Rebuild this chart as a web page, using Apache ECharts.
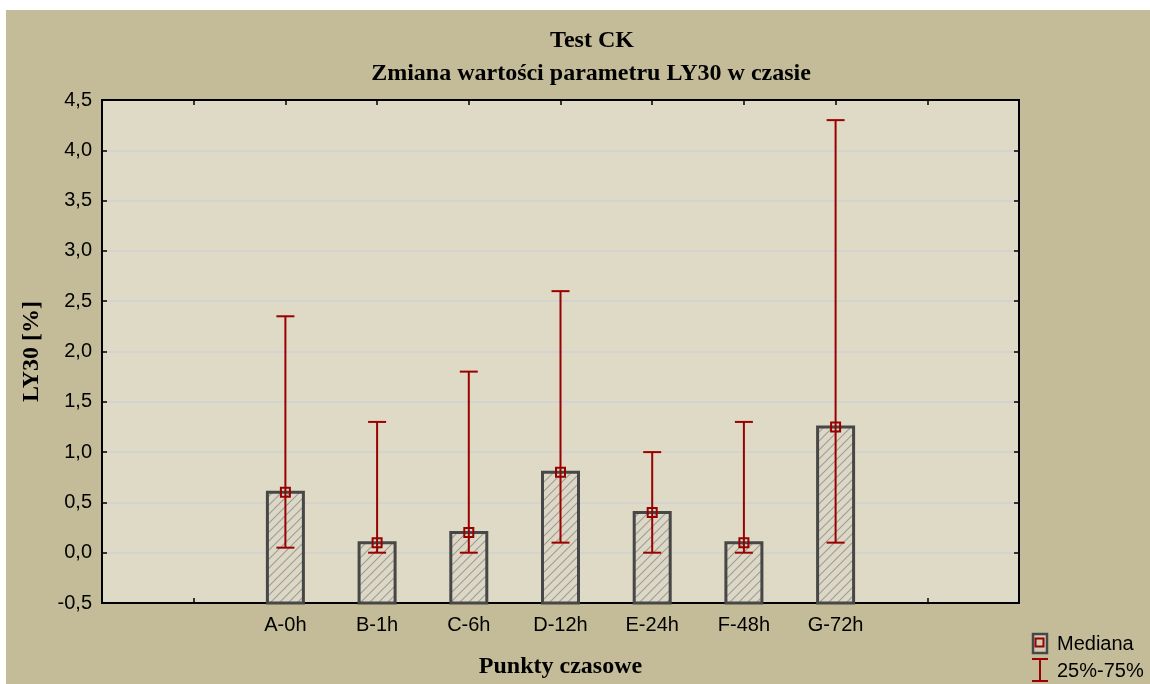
<!DOCTYPE html>
<html>
<head>
<meta charset="utf-8">
<script src="https://cdn.jsdelivr.net/npm/echarts@6/dist/echarts.min.js"></script>
<style>
  html, body { margin: 0; padding: 0; background: #ffffff; overflow: hidden; }
  #chart { width: 1150px; height: 684px; }
</style>
</head>
<body>
<div id="chart"></div>
<script>
// Time points (categories) and LY30 statistics per time point
const categories = ['A-0h', 'B-1h', 'C-6h', 'D-12h', 'E-24h', 'F-48h', 'G-72h'];
const medians = [0.6, 0.1, 0.2, 0.8, 0.4, 0.1, 1.25];
const q25 = [0.05, 0, 0, 0.1, 0, 0, 0.1];
const q75 = [2.35, 1.3, 1.8, 2.6, 1.0, 1.3, 4.3];

// Axis layout: categories sit on slots 2..8 of a 0..10 scale
const firstSlot = 2;
const xMin = 0, xMax = 10;
const yMin = -0.5, yMax = 4.5, yStep = 0.5;

const RED = '#990000';
const BORDER = '#474747';
const SERIF = 'Liberation Serif';
const SANS = 'Liberation Sans';

// Diagonal hatch fill for the median bars
function hatchPattern() {
  const s = 9;
  const c = document.createElement('canvas');
  c.width = s; c.height = s;
  const g = c.getContext('2d');
  g.fillStyle = '#dcd8c5';
  g.fillRect(0, 0, s, s);
  g.strokeStyle = '#9c9c98';
  g.lineWidth = 1.1;
  g.beginPath();
  g.moveTo(0, s); g.lineTo(s, 0);
  g.moveTo(-1, 1); g.lineTo(1, -1);
  g.moveTo(s - 1, s + 1); g.lineTo(s + 1, s - 1);
  g.stroke();
  return c;
}
const hatch = hatchPattern();

const rows = categories.map((c, i) => [firstSlot + i, medians[i], q25[i], q75[i]]);

const chart = echarts.init(document.getElementById('chart'), null, { renderer: 'canvas', width: 1150, height: 684 });

const fmt = v => v.toFixed(1).replace('.', ',');

chart.setOption({
  backgroundColor: '#ffffff',
  animation: false,
  title: [
    {
      text: 'Test CK',
      left: 587, top: 24, textAlign: 'center',
      textStyle: { fontFamily: SERIF, fontWeight: 'bold', fontSize: 24, color: '#000' }
    },
    {
      text: 'Zmiana wartości parametru LY30 w czasie',
      left: 586, top: 57, textAlign: 'center',
      textStyle: { fontFamily: SERIF, fontWeight: 'bold', fontSize: 24, color: '#000' }
    }
  ],
  graphic: [
    { type: 'rect', z: -10, silent: true, shape: { x: 6, y: 10, width: 1144, height: 674 }, style: { fill: '#c4bc98' } },
    // legend: median marker
    { type: 'rect', shape: { x: 1033, y: 634, width: 14, height: 19 }, style: { fill: '#cfcab4', stroke: BORDER, lineWidth: 2.5 } },
    { type: 'rect', shape: { x: 1035.5, y: 638.5, width: 8, height: 8 }, style: { fill: 'none', stroke: RED, lineWidth: 2 } },
    { type: 'text', x: 1057, y: 644, style: { text: 'Mediana', fontFamily: SANS, fontSize: 20, fill: '#000', verticalAlign: 'middle' } },
    // legend: interquartile whisker
    { type: 'line', shape: { x1: 1040, y1: 659, x2: 1040, y2: 681 }, style: { stroke: RED, lineWidth: 2 } },
    { type: 'line', shape: { x1: 1032, y1: 659, x2: 1048, y2: 659 }, style: { stroke: RED, lineWidth: 2 } },
    { type: 'line', shape: { x1: 1032, y1: 681, x2: 1048, y2: 681 }, style: { stroke: RED, lineWidth: 2 } },
    { type: 'text', x: 1057, y: 671, style: { text: '25%-75%', fontFamily: SANS, fontSize: 20, fill: '#000', verticalAlign: 'middle' } }
  ],
  grid: {
    left: 102, top: 100, right: 131, bottom: 79,
    show: true, backgroundColor: '#dfdac5', borderWidth: 0
  },
  xAxis: [
    {
      type: 'value', min: xMin, max: xMax, interval: 1, position: 'bottom',
      name: 'Punkty czasowe', nameLocation: 'middle', nameGap: 52,
      nameTextStyle: { fontFamily: SERIF, fontWeight: 'bold', fontSize: 24, color: '#000' },
      axisLine: { onZero: false, lineStyle: { color: '#000', width: 2 } },
      axisTick: { inside: true, length: 5, lineStyle: { color: '#000', width: 1.5 } },
      axisLabel: {
        margin: 12, fontFamily: SANS, fontSize: 20, color: '#000',
        formatter: v => categories[v - firstSlot] || ''
      },
      splitLine: { show: false }
    },
    {
      type: 'value', min: xMin, max: xMax, interval: 1, position: 'top',
      axisLine: { onZero: false, lineStyle: { color: '#000', width: 2 } },
      axisTick: { inside: true, length: 5, lineStyle: { color: '#000', width: 1.5 } },
      axisLabel: { show: false },
      splitLine: { show: false }
    }
  ],
  yAxis: [
    {
      type: 'value', min: yMin, max: yMax, interval: yStep, position: 'left',
      name: 'LY30 [%]', nameLocation: 'middle', nameGap: 58,
      nameTextStyle: { fontFamily: SERIF, fontWeight: 'bold', fontSize: 24, color: '#000' },
      axisLine: { onZero: false, lineStyle: { color: '#000', width: 2 } },
      axisTick: { inside: true, length: 5, lineStyle: { color: '#000', width: 1.5 } },
      axisLabel: { margin: 10, fontFamily: SANS, fontSize: 20, color: '#000', formatter: fmt },
      splitLine: { show: true, lineStyle: { color: '#d3d3cf', width: 2 } }
    },
    {
      type: 'value', min: yMin, max: yMax, interval: yStep, position: 'right',
      axisLine: { onZero: false, lineStyle: { color: '#000', width: 2 } },
      axisTick: { inside: true, length: 5, lineStyle: { color: '#000', width: 1.5 } },
      axisLabel: { show: false },
      splitLine: { show: false }
    }
  ],
  series: [
    {
      type: 'custom',
      name: 'Mediana',
      xAxisIndex: 0, yAxisIndex: 0,
      data: rows,
      encode: { x: 0, y: [1, 2, 3] },
      renderItem: function (params, api) {
        const x = api.value(0);
        const base = api.coord([x, yMin]);
        const top = api.coord([x, api.value(1)]);
        const lo = api.coord([x, api.value(2)]);
        const hi = api.coord([x, api.value(3)]);
        const bw = 36, cap = 18, m = 9;
        return {
          type: 'group',
          children: [
            {
              type: 'rect',
              shape: { x: top[0] - bw / 2, y: top[1], width: bw, height: base[1] - top[1] },
              style: { fill: { image: hatch, repeat: 'repeat' }, stroke: BORDER, lineWidth: 3 }
            },
            { type: 'line', shape: { x1: hi[0], y1: hi[1], x2: lo[0], y2: lo[1] }, style: { stroke: RED, lineWidth: 2 } },
            { type: 'line', shape: { x1: hi[0] - cap / 2, y1: hi[1], x2: hi[0] + cap / 2, y2: hi[1] }, style: { stroke: RED, lineWidth: 2 } },
            { type: 'line', shape: { x1: lo[0] - cap / 2, y1: lo[1], x2: lo[0] + cap / 2, y2: lo[1] }, style: { stroke: RED, lineWidth: 2 } },
            {
              type: 'rect',
              shape: { x: top[0] - m / 2, y: top[1] - m / 2, width: m, height: m },
              style: { fill: 'none', stroke: RED, lineWidth: 2 }
            }
          ]
        };
      }
    }
  ]
});
</script>
</body>
</html>
